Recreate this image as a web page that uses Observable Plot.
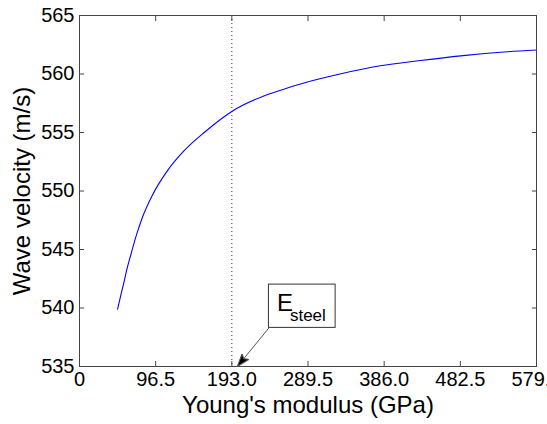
<!DOCTYPE html>
<html><head><meta charset="utf-8">
<script src="https://cdn.jsdelivr.net/npm/d3@7"></script>
<script src="https://cdn.jsdelivr.net/npm/@observablehq/plot@0.6"></script>
<style>html,body{margin:0;padding:0;background:#fff;overflow:hidden}</style>
</head><body><div id="chart"></div>
<script>
// Young's modulus (GPa) and wave velocity (m/s)
const modulus  = [48.25, 52, 56, 60, 64, 72, 80, 92, 111, 132, 158, 193, 229, 250, 280, 330, 381, 432, 483, 542, 579];
const velocity = [539.9, 541.0, 542.1, 543.3, 544.3, 546.2, 547.8, 549.6, 551.7, 553.4, 555.0, 556.8, 558.0, 558.5, 559.15, 560.0, 560.7, 561.15, 561.55, 561.9, 562.05];
const eSteel = 193.0;
const xTicks = [0, 96.5, 193.0, 289.5, 386.0, 482.5, 579.0];
const xTickLabels = ["0", "96.5", "193.0", "289.5", "386.0", "482.5", "579.0"];
const yTicks = [535, 540, 545, 550, 555, 560, 565];
const xLabel = "Young's modulus (GPa)";
const yLabel = "Wave velocity (m/s)";
// annotation box corners and arrow tip, in data units
const annotation = [{boxX: 240, boxY: 538.3, boxX2: 324.5, boxY2: 542.0, tipX: 200, tipY: 535, main: "E", sub: "steel"}];

const points = modulus.map((m, i) => ({m, v: velocity[i]}));
const xLabelMap = new Map(xTicks.map((t, i) => [t, xTickLabels[i]]));

function headMarker(color, context) {
  const m = d3.create("svg:marker")
    .attr("viewBox", "-13 -5 13 10")
    .attr("markerWidth", 13).attr("markerHeight", 10)
    .attr("markerUnits", "userSpaceOnUse")
    .attr("orient", "auto").attr("refX", 0).attr("refY", 0);
  m.append("path").attr("d", "M0,0L-13,-4.5L-10,0L-13,4.5Z").attr("fill", "black");
  return m.node();
}

const axisColor = "#444";
const plot = Plot.plot({
  width: 547, height: 424,
  marginLeft: 79, marginRight: 11, marginTop: 15, marginBottom: 58,
  style: {fontFamily: "'Liberation Sans', Arial, sans-serif", fontSize: "20px", color: "black", background: "white", overflow: "visible"},
  x: {domain: [0, 579]},
  y: {domain: [535, 565]},
  marks: [
    Plot.ruleX([eSteel], {stroke: "#333", strokeDasharray: "1,3"}),
    Plot.line(points, {x: "m", y: "v", stroke: "#0000ff", strokeWidth: 1.1, curve: "monotone-x"}),
    Plot.frame({stroke: axisColor}),
    Plot.axisX(xTicks, {anchor: "bottom", tickSize: -5, tickPadding: 10, tickFormat: d => xLabelMap.get(d), stroke: axisColor, fill: "black", label: null}),
    Plot.axisX(xTicks, {anchor: "top", tickSize: -5, stroke: axisColor, fill: "none", label: null}),
    Plot.axisY(yTicks, {anchor: "left", tickSize: -5, tickPadding: 10, stroke: axisColor, fill: "black", label: null}),
    Plot.axisY(yTicks, {anchor: "right", tickSize: -5, stroke: axisColor, fill: "none", label: null}),
    Plot.text([xLabel], {frameAnchor: "bottom", dy: 46, fontSize: 24, lineAnchor: "bottom", fill: "black"}),
    Plot.text([yLabel], {frameAnchor: "left", dx: -57, rotate: -90, fontSize: 24, textAnchor: "middle", fill: "black"}),
    Plot.link(annotation, {x1: "boxX", y1: "boxY", x2: "tipX", y2: "tipY", stroke: "#555", strokeWidth: 1, markerEnd: headMarker}),
    Plot.rect(annotation, {x1: "boxX", x2: "boxX2", y1: "boxY", y2: "boxY2", fill: "white", stroke: "#333", strokeWidth: 1}),
    Plot.text(annotation, {x: "boxX", y: "boxY", text: "main", dx: 8, dy: -17, fontSize: 24, textAnchor: "start", lineAnchor: "bottom", fill: "black"}),
    Plot.text(annotation, {x: "boxX", y: "boxY", text: "sub", dx: 21, dy: -7, fontSize: 17, textAnchor: "start", lineAnchor: "bottom", fill: "black"})
  ]
});
document.getElementById("chart").appendChild(plot);
</script>
</body></html>
